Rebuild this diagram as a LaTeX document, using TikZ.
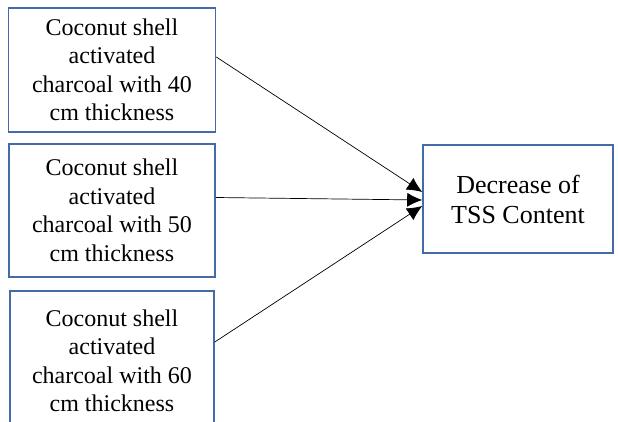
\documentclass[tikz,border=0pt]{standalone}
\usepackage{fontspec}
\setmainfont{Liberation Serif}
\newfontfamily\boxfont{Liberation Serif}
\usetikzlibrary{arrows.meta}

\definecolor{boxblue}{RGB}{68,106,170}

\begin{document}
\begin{tikzpicture}[x=1pt,y=-1pt]
	\tikzset{factor/.style={draw=boxblue,line width=1.6pt,align=center,
			font=\boxfont\fontsize{24}{28.5}\selectfont,inner sep=0pt},
		link/.style={draw,line width=0.7pt,-{Latex[length=15pt,width=14pt]}}}
	\useasboundingbox (0,0) rectangle (618,422);
	\clip (0,0) rectangle (618,422);
	% thickness boxes
	\node[factor,minimum width=207pt,minimum height=124pt] (t40) at (112,70)
		{Coconut shell\\activated\\charcoal with 40\\cm thickness};
	\node[factor,minimum width=206pt,minimum height=133pt] (t50) at (112,210.5)
		{Coconut shell\\activated\\charcoal with 50\\cm thickness};
	\node[factor,minimum width=204pt,minimum height=140pt] (t60) at (112,361)
		{Coconut shell\\activated\\charcoal with 60\\cm thickness};
	% result
	\node[factor,font=\boxfont\fontsize{26}{30}\selectfont,
		minimum width=190pt,minimum height=108pt] (tss) at (518,199)
		{Decrease of\\TSS Content};
	\draw[link] ([yshift=13pt]t40.east) -- ([yshift=7pt]tss.west);
	\draw[link] ([yshift=13pt]t50.east) -- ([yshift=-1pt]tss.west);
	\draw[link] ([yshift=19pt]t60.east) -- ([yshift=-7pt]tss.west);
\end{tikzpicture}
\end{document}
